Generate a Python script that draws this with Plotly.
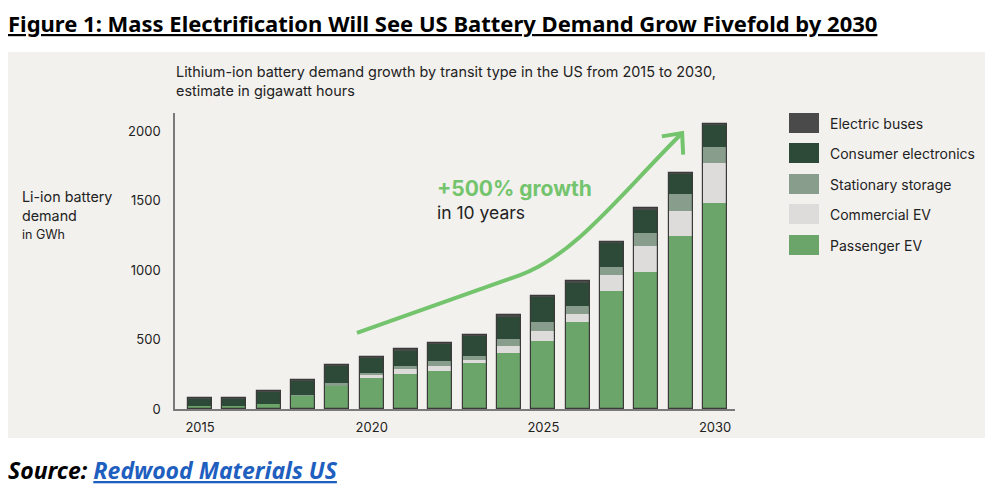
import plotly.graph_objects as go

# ---------------- data ----------------
years = list(range(2015, 2031))
passenger_ev = [20, 20, 35, 95, 165, 221, 252, 276, 329, 401, 491, 628, 851, 983, 1245, 1484]
commercial_ev = [0, 0, 0, 0, 0, 24, 33, 33, 23, 52, 72, 55, 113, 190, 182, 284]
stationary_storage = [0, 0, 0, 4, 20, 12, 24, 38, 29, 48, 61, 60, 60, 91, 120, 115]
consumer_electronics = [58, 58, 89, 104, 126, 114, 115, 125, 145, 168, 182, 170, 172, 172, 145, 162]
electric_buses = [3, 3, 5, 6, 6, 5, 5, 5, 6, 7, 7, 8, 8, 8, 8, 8]

series_names = ["Passenger EV", "Commercial EV", "Stationary storage",
                "Consumer electronics", "Electric buses"]
series_values = [passenger_ev, commercial_ev, stationary_storage,
                 consumer_electronics, electric_buses]
series_colors = ["#6ca56a", "#dddcda", "#889d8b", "#2c4a37", "#4a4a4a"]

y_ticks = [0, 500, 1000, 1500, 2000]
x_ticks = [2015, 2020, 2025, 2030]

# ---------------- layout geometry ----------------
OFF = 8                      # default page margin of the html body
W, H = 992, 491
L, R, T, B = 167, 265, 105, 90
PW, PH = W - L - R, H - T - B

def px(x):
    """page pixel x -> paper coordinate"""
    return (x - OFF - L) / PW

def py(y):
    """page pixel y -> paper coordinate"""
    return (H - B - (y - OFF)) / PH

FONT = "Inter"

fig = go.Figure()

cum = [0] * len(years)
for name, vals, col in zip(series_names, series_values, series_colors):
    fig.add_trace(go.Bar(
        x=years, y=vals, base=list(cum), name=name,
        marker=dict(color=col, line=dict(width=0)),
        width=0.7, showlegend=False))
    cum = [c + v for c, v in zip(cum, vals)]

# outline of each full bar
fig.add_trace(go.Bar(
    x=years, y=cum, base=[0] * len(years),
    marker=dict(color="rgba(0,0,0,0)", line=dict(color="#3a3a3a", width=1.2)),
    width=0.7, showlegend=False, hoverinfo="skip"))

shapes = []
# chart panel background
shapes.append(dict(type="rect", xref="paper", yref="paper", layer="below",
                   x0=px(8), x1=px(985), y0=py(438), y1=py(52),
                   fillcolor="#f3f1ee", line=dict(width=0)))

# growth arrow (decorative)
arrow_col = "#74c46e"
shapes.append(dict(type="path", xref="x", yref="y", layer="above",
                   path="M 2019.57,547 L 2024.32,964 C 2025.92,1108 2027.23,1540 2029.04,1986",
                   line=dict(color=arrow_col, width=4)))
shapes.append(dict(type="path", xref="x", yref="y", layer="above",
                   path="M 2028.45,1962 L 2029.04,1986 L 2029.07,1830",
                   line=dict(color=arrow_col, width=4)))

annotations = []
# subtitle
annotations.append(dict(
    xref="paper", yref="paper", x=px(174), y=py(61), xanchor="left", yanchor="top",
    align="left", showarrow=False,
    text="Lithium-ion battery demand growth by transit type in the US from 2015 to 2030,<br>estimate in gigawatt hours",
    font=dict(family=FONT, size=14.4, color="#222")))
# y axis title
annotations.append(dict(
    xref="paper", yref="paper", x=px(20), y=py(186), xanchor="left", yanchor="top",
    align="left", showarrow=False,
    text="Li-ion battery<br>demand<br><span style='font-size:12.5px'>in GWh</span>",
    font=dict(family=FONT, size=14.3, color="#222")))
# growth text
annotations.append(dict(
    xref="paper", yref="paper", x=px(435), y=py(188), xanchor="left", yanchor="middle",
    showarrow=False, text="<b>+500% growth</b>",
    font=dict(family=FONT, size=21, color=arrow_col)))
annotations.append(dict(
    xref="paper", yref="paper", x=px(435), y=py(212), xanchor="left", yanchor="middle",
    showarrow=False, text="in 10 years",
    font=dict(family=FONT, size=17.5, color="#222")))

# custom legend (top to bottom: reversed stacking order)
leg_y = [123, 153, 184, 214, 245]
for yc, name, col in zip(leg_y, series_names[::-1], series_colors[::-1]):
    shapes.append(dict(type="rect", xref="paper", yref="paper",
                       x0=px(789), x1=px(819), y0=py(yc + 10), y1=py(yc - 10),
                       fillcolor=col, line=dict(width=0)))
    annotations.append(dict(
        xref="paper", yref="paper", x=px(828), y=py(yc), xanchor="left", yanchor="middle",
        showarrow=False, text=name, font=dict(family=FONT, size=14, color="#222")))

# title and source
annotations.append(dict(
    xref="paper", yref="paper", x=px(6), y=py(23), xanchor="left", yanchor="middle",
    showarrow=False,
    text="<b><u>Figure 1: Mass Electrification Will See US Battery Demand Grow Fivefold by 2030</u></b>",
    font=dict(family="Noto Sans", size=22, color="#000")))
annotations.append(dict(
    xref="paper", yref="paper", x=px(6), y=py(470), xanchor="left", yanchor="middle",
    showarrow=False,
    text="<b><i>Source: <span style='color:#1f5fbf'><u>Redwood Materials US</u></span></i></b>",
    font=dict(family="Noto Sans", size=23, color="#000")))

fig.update_layout(
    width=W, height=H,
    margin=dict(l=L, r=R, t=T, b=B, pad=0),
    paper_bgcolor="white", plot_bgcolor="rgba(0,0,0,0)",
    barmode="overlay", bargap=0,
    shapes=shapes, annotations=annotations,
    showlegend=False,
    xaxis=dict(range=[2014.27, 2030.58], tickvals=x_ticks, ticktext=[str(t) for t in x_ticks],
               showgrid=False, zeroline=False, showline=True, linecolor="#7a7a7a", linewidth=1.5,
               ticks="outside", ticklen=6, tickcolor="rgba(0,0,0,0)",
               tickfont=dict(family=FONT, size=13, color="#222")),
    yaxis=dict(range=[0, 2130], tickvals=y_ticks, ticktext=[str(t) for t in y_ticks],
               showgrid=False, zeroline=False, showline=True, linecolor="#7a7a7a", linewidth=1.5,
               ticks="outside", ticklen=10, tickcolor="rgba(0,0,0,0)",
               tickfont=dict(family=FONT, size=13, color="#222")),
)

fig.write_html("out.html")
